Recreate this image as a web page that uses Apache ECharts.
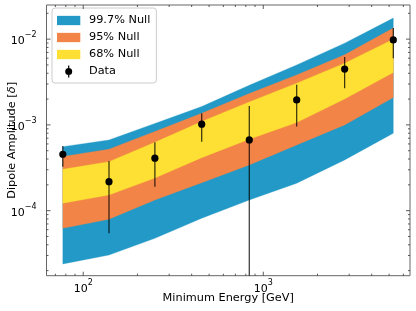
<!DOCTYPE html>
<html><head><meta charset="utf-8">
<script src="https://cdn.jsdelivr.net/npm/echarts@6/dist/echarts.min.js"></script>
<style>html,body{margin:0;padding:0;background:#fff}#c{width:416px;height:311px}</style>
</head><body><div id="c"></div>
<script>
// Minimum energy [GeV] of each bin
const energies = [77, 139, 250, 455, 836, 1533, 2831, 5274];
// Null-hypothesis bands (lower / upper edges)
const null997Low  = [2.39e-5, 3.04e-5, 4.76e-5, 8.15e-5, 1.333e-4, 2.087e-4, 3.905e-4, 8.0e-4];
const null997High = [5.58e-4, 6.68e-4, 1.04e-3, 1.635e-3, 2.905e-3, 5.01e-3, 8.98e-3, 1.758e-2];
const null95Low   = [6.23e-5, 7.94e-5, 1.333e-4, 2.12e-4, 3.415e-4, 5.84e-4, 1.0e-3, 2.083e-3];
const null95High  = [4.27e-4, 5.21e-4, 8.38e-4, 1.369e-3, 2.318e-3, 3.83e-3, 6.56e-3, 1.344e-2];
const null68Low   = [1.22e-4, 1.525e-4, 2.4e-4, 4.15e-4, 6.81e-4, 1.064e-3, 2.011e-3, 4.08e-3];
const null68High  = [3.04e-4, 3.73e-4, 6.28e-4, 1.093e-3, 1.855e-3, 3.066e-3, 5.25e-3, 1.0e-2];
// Measured dipole amplitude with error bar ends (5th lower end is non-positive -> clipped)
const dataAmp     = [4.55e-4, 2.18e-4, 4.09e-4, 1.019e-3, 6.68e-4, 1.957e-3, 4.47e-3, 9.8e-3];
const dataErrLow  = [3.26e-4, 5.45e-5, 1.905e-4, 6.38e-4, 1e-7, 9.55e-4, 2.68e-3, 6.0e-3];
const dataErrHigh = [5.69e-4, 3.80e-4, 6.28e-4, 1.369e-3, 1.666e-3, 2.93e-3, 6.17e-3, 1.344e-2];
// Axis ranges and ticks
const xRange = [62.5, 6530];
const yRange = [1.745e-5, 0.025];
const xMajorTicks = [100, 1000];
const xMinorTicks = [70, 80, 90, 200, 300, 400, 500, 600, 700, 800, 900, 2000, 3000, 4000, 5000, 6000];
const yMajorTicks = [1e-4, 1e-3, 1e-2];
const yMinorTicks = [2e-5, 3e-5, 4e-5, 5e-5, 6e-5, 7e-5, 8e-5, 9e-5,
  2e-4, 3e-4, 4e-4, 5e-4, 6e-4, 7e-4, 8e-4, 9e-4,
  2e-3, 3e-3, 4e-3, 5e-3, 6e-3, 7e-3, 8e-3, 9e-3, 2e-2];
const legendNames = ['99.7% Null', '95% Null', '68% Null', 'Data'];
const xTitle = 'Minimum Energy [GeV]';
const yTitle = '{n|Dipole Amplitude [}{i|\u03b4}{n|]}';

const FONT = 'DejaVu Sans';
const C_BLUE = '#2299c6', C_ORANGE = '#f28447', C_YELLOW = '#fde033';
const TICK_COLOR = '#333';
const GRID = { left: 46.5, right: 6, top: 5, bottom: 35.3 };
const W = 416, H = 311;

function bandSeries(name, color, low, high, z) {
  return {
    type: 'custom', name: name, coordinateSystem: 'cartesian2d', z: z, silent: true,
    itemStyle: { color: color },
    data: energies.map((e, i) => [e, low[i], high[i]]),
    encode: { x: 0, y: [1, 2] },
    renderItem: function (params, api) {
      if (params.dataIndex !== 0) return null;
      const pts = [];
      for (let i = 0; i < energies.length; i++) pts.push(api.coord([energies[i], high[i]]));
      for (let i = energies.length - 1; i >= 0; i--) pts.push(api.coord([energies[i], low[i]]));
      return { type: 'polygon', shape: { points: pts }, style: { fill: color, stroke: color, lineWidth: 0.3 } };
    }
  };
}

function powLabel(v) {
  const e = Math.log10(v), r = Math.round(e);
  if (Math.abs(e - r) > 1e-6) return '';
  return '{b|10}{s|' + String(r).replace('-', '\u2212') + '}';
}
const richLab = {
  b: { fontSize: 11, fontFamily: FONT, color: '#000', lineHeight: 16, verticalAlign: 'bottom' },
  s: { fontSize: 8, fontFamily: FONT, color: '#000', lineHeight: 9, verticalAlign: 'top' }
};

const bandIcon = 'path://M0,0 M27,12 M0,1.35 L23.3,1.35 L23.3,10.65 L0,10.65 Z';
const dataIcon = 'path://M0,0 M27,12 M11.1,0 L12.3,0 L12.3,12 L11.1,12 Z M15.2,6 A3.5,3.5 0 1 1 8.2,6 A3.5,3.5 0 1 1 15.2,6 Z';

const chart = echarts.init(document.getElementById('c'), null, { renderer: 'canvas' });
chart.setOption({
  animation: false,
  backgroundColor: '#fff',
  textStyle: { fontFamily: FONT },
  grid: Object.assign({ containLabel: false, outerBoundsMode: 'none',
    show: true, borderColor: '#666', borderWidth: 1, backgroundColor: 'transparent' }, GRID),
  graphic: {
    elements: [
      { type: 'text', x: (GRID.left + W - GRID.right) / 2, y: 298.5, silent: true, z: 20,
        style: { text: xTitle, fontSize: 11.3, fontFamily: FONT, fill: '#000', align: 'center', verticalAlign: 'middle' } },
      { type: 'text', x: 12, y: (GRID.top + H - GRID.bottom) / 2, rotation: Math.PI / 2, silent: true, z: 20,
        style: { text: yTitle, fontSize: 11.3, fontFamily: FONT, align: 'center', verticalAlign: 'middle', fill: '#000',
          rich: {
            n: { fontSize: 11.3, fontFamily: FONT, fill: '#000' },
            i: { fontSize: 11.3, fontFamily: FONT, fontStyle: 'italic', fill: '#000' } } } }
    ]
  },
  legend: {
    orient: 'vertical', left: 52, top: 8,
    padding: [6, 6, 5, 5],
    itemWidth: 27, itemHeight: 12, itemGap: 4,
    backgroundColor: 'rgba(255,255,255,0.85)', borderColor: '#cccccc', borderWidth: 1, borderRadius: 3,
    textStyle: { fontSize: 11.3, fontFamily: FONT, color: '#000', lineHeight: 13 },
    selectedMode: false,
    data: [
      { name: legendNames[0], icon: bandIcon },
      { name: legendNames[1], icon: bandIcon },
      { name: legendNames[2], icon: bandIcon },
      { name: legendNames[3], icon: dataIcon }
    ]
  },
  xAxis: {
    type: 'log', logBase: 10, min: xRange[0], max: xRange[1],
    axisLine: { show: false }, axisTick: { show: false }, splitLine: { show: false },
    axisLabel: { margin: 3, formatter: powLabel, rich: richLab, showMinLabel: false, showMaxLabel: false }
  },
  yAxis: {
    type: 'log', logBase: 10, min: yRange[0], max: yRange[1],
    axisLine: { show: false }, axisTick: { show: false }, splitLine: { show: false },
    axisLabel: { margin: 10, formatter: powLabel, rich: richLab, showMinLabel: false, showMaxLabel: false }
  },
  series: [
    bandSeries(legendNames[0], C_BLUE, null997Low, null997High, 2),
    bandSeries(legendNames[1], C_ORANGE, null95Low, null95High, 3),
    bandSeries(legendNames[2], C_YELLOW, null68Low, null68High, 4),
    {
      type: 'custom', name: legendNames[3], coordinateSystem: 'cartesian2d', z: 6, clip: true, silent: true,
      itemStyle: { color: '#000' },
      data: energies.map((e, i) => [e, dataAmp[i], dataErrLow[i], dataErrHigh[i]]),
      encode: { x: 0, y: [1, 2, 3] },
      renderItem: function (params, api) {
        const x = api.value(0);
        const p = api.coord([x, api.value(1)]);
        const lo = api.coord([x, api.value(2)]);
        const hi = api.coord([x, api.value(3)]);
        return { type: 'group', children: [
          { type: 'line', shape: { x1: p[0], y1: lo[1], x2: p[0], y2: hi[1] }, style: { stroke: 'rgba(0,0,0,0.8)', lineWidth: 1.2 } },
          { type: 'circle', shape: { cx: p[0], cy: p[1], r: 3.6 }, style: { fill: '#000' } }
        ] };
      }
    },
    {
      type: 'custom', name: 'xticks', coordinateSystem: 'cartesian2d', z: 8, silent: true,
      data: xMajorTicks.map(v => [v, yRange[0], 4]).concat(xMinorTicks.map(v => [v, yRange[0], 2])),
      renderItem: function (params, api) {
        const cs = params.coordSys;
        const x = api.coord([api.value(0), yRange[0]])[0];
        const len = api.value(2);
        const st = { stroke: TICK_COLOR, lineWidth: 0.8 };
        return { type: 'group', children: [
          { type: 'line', shape: { x1: x, y1: cs.y + cs.height, x2: x, y2: cs.y + cs.height - len }, style: st },
          { type: 'line', shape: { x1: x, y1: cs.y, x2: x, y2: cs.y + len }, style: st }
        ] };
      }
    },
    {
      type: 'custom', name: 'yticks', coordinateSystem: 'cartesian2d', z: 8, silent: true,
      data: yMajorTicks.map(v => [xRange[0], v, 4]).concat(yMinorTicks.map(v => [xRange[0], v, 2])),
      renderItem: function (params, api) {
        const cs = params.coordSys;
        const y = api.coord([xRange[0], api.value(1)])[1];
        const len = api.value(2);
        const st = { stroke: TICK_COLOR, lineWidth: 0.8 };
        return { type: 'group', children: [
          { type: 'line', shape: { x1: cs.x, y1: y, x2: cs.x + len, y2: y }, style: st },
          { type: 'line', shape: { x1: cs.x + cs.width, y1: y, x2: cs.x + cs.width - len, y2: y }, style: st }
        ] };
      }
    }
  ]
});
</script></body></html>
